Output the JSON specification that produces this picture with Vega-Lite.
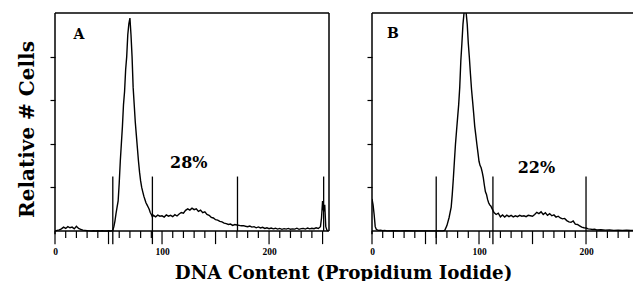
{
  "$schema": "https://vega.github.io/schema/vega-lite/v6.json",
  "background": "white",
  "padding": {"left": 17, "top": 12, "right": 0, "bottom": 0},
  "bounds": "flush",
  "spacing": 43,
  "config": {
    "view": {"stroke": null},
    "font": "DejaVu Serif",
    "axis": {"grid": false, "domainColor": "black", "domainWidth": 1.5, "tickColor": "black", "tickWidth": 1.2, "labelColor": "black", "titleColor": "black"}
  },
  "title": {
    "text": "DNA Content (Propidium Iodide)",
    "orient": "bottom",
    "anchor": "middle",
    "font": "DejaVu Serif",
    "fontSize": 18.3,
    "fontWeight": "bold",
    "color": "black",
    "offset": 9,
    "dx": 18
  },
  "datasets": {
    "one": [{}],
    "a": [
      {"x":0,"v":0},{"x":2,"v":0.3},{"x":4,"v":0.5},{"x":6,"v":1.0},{"x":8,"v":1.8},{"x":10,"v":1.2},{"x":12,"v":2.0},{"x":14,"v":1.5},{"x":16,"v":1.8},{"x":18,"v":1.0},{"x":20,"v":2.2},{"x":22,"v":1.2},{"x":24,"v":0.8},{"x":26,"v":0.4},{"x":28,"v":0.3},{"x":30,"v":0.2},{"x":32,"v":0.1},{"x":34,"v":0},{"x":36,"v":0.1},{"x":38,"v":0},{"x":40,"v":0.1},{"x":42,"v":0},{"x":44,"v":0.1},{"x":46,"v":0},{"x":48,"v":0},{"x":50,"v":0.1},{"x":52,"v":0},{"x":54,"v":0.3},{"x":55,"v":2},{"x":56,"v":4.6},{"x":57,"v":8},{"x":58,"v":11},{"x":59,"v":13.8},{"x":60,"v":22},{"x":61,"v":32},{"x":62,"v":40},{"x":63,"v":48},{"x":64,"v":58},{"x":65,"v":64},{"x":66,"v":74},{"x":67,"v":80},{"x":68,"v":90},{"x":69,"v":95},{"x":70,"v":97.7},{"x":71,"v":90},{"x":72,"v":80},{"x":73,"v":66},{"x":74,"v":58},{"x":75,"v":50},{"x":76,"v":44},{"x":77,"v":38},{"x":78,"v":32},{"x":79,"v":27},{"x":80,"v":23},{"x":81,"v":20},{"x":82,"v":18},{"x":83,"v":16},{"x":84,"v":14.5},{"x":85,"v":13},{"x":86,"v":12},{"x":87,"v":11},{"x":88,"v":10},{"x":89,"v":8.5},{"x":90,"v":7.6},{"x":91,"v":6.5},{"x":92,"v":7.2},{"x":94,"v":6.5},{"x":96,"v":7.3},{"x":98,"v":6.8},{"x":100,"v":7.0},{"x":102,"v":6.4},{"x":104,"v":7.4},{"x":106,"v":6.8},{"x":108,"v":7.2},{"x":110,"v":6.6},{"x":112,"v":7.5},{"x":114,"v":6.9},{"x":116,"v":7.8},{"x":118,"v":8.5},{"x":120,"v":8.2},{"x":122,"v":9.5},{"x":124,"v":10.2},{"x":126,"v":9.6},{"x":128,"v":10.5},{"x":130,"v":9.8},{"x":132,"v":10.2},{"x":134,"v":9.0},{"x":136,"v":9.6},{"x":138,"v":8.4},{"x":140,"v":8.8},{"x":142,"v":7.6},{"x":144,"v":7.2},{"x":146,"v":6.3},{"x":148,"v":6.0},{"x":150,"v":5.2},{"x":152,"v":5.0},{"x":154,"v":4.4},{"x":156,"v":4.2},{"x":158,"v":3.6},{"x":160,"v":3.4},{"x":162,"v":3.0},{"x":164,"v":3.2},{"x":166,"v":2.6},{"x":168,"v":3.0},{"x":170,"v":2.8},{"x":172,"v":2.6},{"x":174,"v":2.4},{"x":176,"v":2.5},{"x":178,"v":2.2},{"x":180,"v":2.0},{"x":182,"v":2.3},{"x":184,"v":1.8},{"x":186,"v":2.0},{"x":188,"v":1.5},{"x":190,"v":1.9},{"x":192,"v":1.4},{"x":194,"v":1.7},{"x":196,"v":1.2},{"x":198,"v":1.5},{"x":200,"v":1.1},{"x":202,"v":1.4},{"x":204,"v":1.0},{"x":206,"v":1.3},{"x":208,"v":0.9},{"x":210,"v":1.2},{"x":212,"v":0.8},{"x":214,"v":1.1},{"x":216,"v":0.9},{"x":218,"v":1.2},{"x":220,"v":0.8},{"x":222,"v":1.0},{"x":224,"v":0.9},{"x":226,"v":1.3},{"x":228,"v":0.8},{"x":230,"v":1.1},{"x":232,"v":1.2},{"x":234,"v":0.9},{"x":236,"v":1.4},{"x":238,"v":1.0},{"x":240,"v":1.3},{"x":242,"v":1.1},{"x":244,"v":1.5},{"x":246,"v":1.2},{"x":248,"v":2.0},{"x":249,"v":6},{"x":250,"v":13.8},{"x":251,"v":9},{"x":252,"v":12},{"x":253,"v":2},{"x":254,"v":0.5},{"x":255,"v":0}
    ],
    "b": [
      {"x":0,"v":14.7},{"x":1,"v":12},{"x":2,"v":7.6},{"x":3,"v":2},{"x":4,"v":0.8},{"x":5,"v":0.5},{"x":6,"v":0.3},{"x":8,"v":0.4},{"x":10,"v":0.2},{"x":12,"v":0.3},{"x":14,"v":0.1},{"x":20,"v":0.2},{"x":26,"v":0.1},{"x":32,"v":0.2},{"x":40,"v":0.1},{"x":48,"v":0.1},{"x":56,"v":0.1},{"x":62,"v":0.1},{"x":66,"v":0.1},{"x":68,"v":0.3},{"x":70,"v":2.5},{"x":72,"v":6.1},{"x":74,"v":11},{"x":75,"v":16.8},{"x":76,"v":24},{"x":77,"v":32},{"x":78,"v":39.8},{"x":79,"v":46},{"x":80,"v":52},{"x":81,"v":58},{"x":82,"v":66},{"x":83,"v":78},{"x":84,"v":86},{"x":85,"v":94.8},{"x":86,"v":100},{"x":87,"v":102},{"x":88,"v":100},{"x":89,"v":94.8},{"x":90,"v":86},{"x":91,"v":79.5},{"x":92,"v":72},{"x":93,"v":65},{"x":94,"v":59.6},{"x":95,"v":54},{"x":96,"v":48},{"x":97,"v":44},{"x":98,"v":39.8},{"x":99,"v":36},{"x":100,"v":32},{"x":101,"v":30},{"x":102,"v":29},{"x":103,"v":27},{"x":104,"v":24.5},{"x":105,"v":21},{"x":106,"v":18},{"x":107,"v":16.8},{"x":108,"v":14.5},{"x":109,"v":13},{"x":110,"v":12},{"x":111,"v":11.5},{"x":112,"v":10.5},{"x":113,"v":9.5},{"x":114,"v":8.5},{"x":116,"v":7.6},{"x":118,"v":8.2},{"x":120,"v":6.5},{"x":122,"v":7.4},{"x":124,"v":6.4},{"x":126,"v":7.3},{"x":128,"v":6.6},{"x":130,"v":7.2},{"x":132,"v":6.5},{"x":134,"v":7.0},{"x":136,"v":6.6},{"x":138,"v":7.2},{"x":140,"v":6.8},{"x":142,"v":7.0},{"x":144,"v":6.6},{"x":146,"v":7.2},{"x":148,"v":7.0},{"x":150,"v":6.8},{"x":152,"v":7.6},{"x":154,"v":8.6},{"x":156,"v":8.0},{"x":158,"v":8.8},{"x":160,"v":7.6},{"x":162,"v":8.4},{"x":164,"v":7.2},{"x":166,"v":8.0},{"x":168,"v":7.0},{"x":170,"v":7.4},{"x":172,"v":6.4},{"x":174,"v":6.8},{"x":176,"v":6.0},{"x":178,"v":5.6},{"x":180,"v":5.8},{"x":182,"v":4.8},{"x":184,"v":4.2},{"x":186,"v":4.0},{"x":188,"v":4.6},{"x":190,"v":3.2},{"x":192,"v":3.0},{"x":194,"v":2.4},{"x":196,"v":1.8},{"x":198,"v":1.5},{"x":200,"v":1.4},{"x":202,"v":1.0},{"x":204,"v":0.9},{"x":206,"v":0.7},{"x":208,"v":0.8},{"x":210,"v":0.5},{"x":214,"v":0.6},{"x":218,"v":0.4},{"x":222,"v":0.5},{"x":226,"v":0.3},{"x":230,"v":0.4},{"x":234,"v":0.3},{"x":238,"v":0.4},{"x":242,"v":0.3},{"x":244,"v":0.3}
    ],
    "ga": [{"x":54,"lo":-6,"hi":25},{"x":91,"lo":-6,"hi":25},{"x":170.5,"lo":0,"hi":25},{"x":251,"lo":0,"hi":25}],
    "gb": [{"x":60,"lo":-6,"hi":25},{"x":113,"lo":-6,"hi":25},{"x":200,"lo":0,"hi":25}],
    "minorA": [{"x":10},{"x":20},{"x":30},{"x":40},{"x":60},{"x":70},{"x":80},{"x":90},{"x":110},{"x":120},{"x":130},{"x":140},{"x":160},{"x":170},{"x":180},{"x":190},{"x":210},{"x":220},{"x":230},{"x":240}],
    "majorA": [{"x":0},{"x":50},{"x":100},{"x":150},{"x":200},{"x":250}],
    "minorB": [{"x":10},{"x":20},{"x":30},{"x":40},{"x":60},{"x":70},{"x":80},{"x":90},{"x":110},{"x":120},{"x":130},{"x":140},{"x":160},{"x":170},{"x":180},{"x":190},{"x":210},{"x":220},{"x":230},{"x":240}],
    "majorB": [{"x":0},{"x":50},{"x":100},{"x":150},{"x":200}]
  },
  "hconcat": [
    {
      "width": 274,
      "height": 232,
      "layer": [
        {
          "data": {"name": "a"},
          "mark": {"type": "line", "color": "black", "strokeWidth": 1.4},
          "encoding": {
            "x": {"field": "x", "type": "quantitative", "scale": {"domain": [0, 256], "nice": false, "zero": false},
              "axis": {"title": null, "values": [0, 100, 200], "ticks": false, "domain": false, "labelPadding": 1,
                "labelFont": "Liberation Serif", "labelFontWeight": "bold", "labelFontSize": 9.5,
                "labelFlush": false, "labelOverlap": false}},
            "y": {"field": "v", "type": "quantitative", "scale": {"domain": [-6.4, 100], "nice": false, "zero": false},
              "axis": {"title": "Relative # Cells", "titleFont": "DejaVu Serif", "titleFontSize": 20, "titleFontWeight": "bold",
                "labels": false, "domain": false, "values": [20, 40, 60, 80], "tickSize": 5, "titlePadding": 12}}
          }
        },
        {"data": {"name": "one"}, "mark": {"type": "rule", "color": "black", "strokeWidth": 1.5}, "encoding": {"y": {"datum": 0}}},
        {"data": {"name": "one"}, "mark": {"type": "rule", "color": "black", "strokeWidth": 1.5}, "encoding": {"y": {"datum": 100}}},
        {"data": {"name": "one"}, "mark": {"type": "rule", "color": "black", "strokeWidth": 1.5}, "encoding": {"x": {"datum": 0}, "y": {"datum": -1.5}, "y2": {"datum": 100}}},
        {"data": {"name": "one"}, "mark": {"type": "rule", "color": "black", "strokeWidth": 1.5}, "encoding": {"x": {"datum": 256}, "y": {"datum": 0}, "y2": {"datum": 100}}},
        {
          "data": {"name": "minorA"},
          "mark": {"type": "rule", "color": "black", "strokeWidth": 1.2},
          "encoding": {"x": {"field": "x", "type": "quantitative"}, "y": {"datum": -3.2}, "y2": {"datum": 0}}
        },
        {
          "data": {"name": "majorA"},
          "mark": {"type": "rule", "color": "black", "strokeWidth": 1.2},
          "encoding": {"x": {"field": "x", "type": "quantitative"}, "y": {"datum": -6}, "y2": {"datum": 0}}
        },
        {
          "data": {"name": "ga"},
          "mark": {"type": "rule", "color": "black", "strokeWidth": 1.3},
          "encoding": {
            "x": {"field": "x", "type": "quantitative"},
            "y": {"field": "lo", "type": "quantitative"},
            "y2": {"field": "hi"}
          }
        },
        {
          "data": {"values": [{"t": "A", "x": 22.4, "y": 89.9}]},
          "mark": {"type": "text", "font": "DejaVu Serif", "fontWeight": "bold", "fontSize": 14, "color": "black", "baseline": "middle"},
          "encoding": {"x": {"field": "x", "type": "quantitative"}, "y": {"field": "y", "type": "quantitative"}, "text": {"field": "t"}}
        },
        {
          "data": {"values": [{"t": "28%", "x": 125, "y": 31.2}]},
          "mark": {"type": "text", "font": "DejaVu Serif", "fontWeight": "bold", "fontSize": 16, "color": "black", "baseline": "middle"},
          "encoding": {"x": {"field": "x", "type": "quantitative"}, "y": {"field": "y", "type": "quantitative"}, "text": {"field": "t"}}
        }
      ]
    },
    {
      "width": 261,
      "height": 232,
      "layer": [
        {
          "data": {"name": "b"},
          "mark": {"type": "line", "color": "black", "strokeWidth": 1.4, "clip": true},
          "encoding": {
            "x": {"field": "x", "type": "quantitative", "scale": {"domain": [0, 243.9], "nice": false, "zero": false},
              "axis": {"title": null, "values": [0, 100, 200], "ticks": false, "domain": false, "labelPadding": 1,
                "labelFont": "Liberation Serif", "labelFontWeight": "bold", "labelFontSize": 9.5,
                "labelFlush": false, "labelOverlap": false}},
            "y": {"field": "v", "type": "quantitative", "scale": {"domain": [-6.4, 100], "nice": false, "zero": false},
              "axis": {"title": null, "labels": false, "domain": false, "values": [20, 40, 60, 80], "tickSize": 5}}
          }
        },
        {"data": {"name": "one"}, "mark": {"type": "rule", "color": "black", "strokeWidth": 1.5}, "encoding": {"y": {"datum": 0}}},
        {"data": {"name": "one"}, "mark": {"type": "rule", "color": "black", "strokeWidth": 1.5}, "encoding": {"y": {"datum": 100}}},
        {"data": {"name": "one"}, "mark": {"type": "rule", "color": "black", "strokeWidth": 1.5}, "encoding": {"x": {"datum": 0}, "y": {"datum": -1.5}, "y2": {"datum": 100}}},
        {
          "data": {"name": "minorB"},
          "mark": {"type": "rule", "color": "black", "strokeWidth": 1.2},
          "encoding": {"x": {"field": "x", "type": "quantitative"}, "y": {"datum": -3.2}, "y2": {"datum": 0}}
        },
        {
          "data": {"name": "majorB"},
          "mark": {"type": "rule", "color": "black", "strokeWidth": 1.2},
          "encoding": {"x": {"field": "x", "type": "quantitative"}, "y": {"datum": -6}, "y2": {"datum": 0}}
        },
        {
          "data": {"name": "gb"},
          "mark": {"type": "rule", "color": "black", "strokeWidth": 1.3},
          "encoding": {
            "x": {"field": "x", "type": "quantitative"},
            "y": {"field": "lo", "type": "quantitative"},
            "y2": {"field": "hi"}
          }
        },
        {
          "data": {"values": [{"t": "B", "x": 19.6, "y": 90.4}]},
          "mark": {"type": "text", "font": "DejaVu Serif", "fontWeight": "bold", "fontSize": 14, "color": "black", "baseline": "middle"},
          "encoding": {"x": {"field": "x", "type": "quantitative"}, "y": {"field": "y", "type": "quantitative"}, "text": {"field": "t"}}
        },
        {
          "data": {"values": [{"t": "22%", "x": 153.7, "y": 28.7}]},
          "mark": {"type": "text", "font": "DejaVu Serif", "fontWeight": "bold", "fontSize": 16, "color": "black", "baseline": "middle"},
          "encoding": {"x": {"field": "x", "type": "quantitative"}, "y": {"field": "y", "type": "quantitative"}, "text": {"field": "t"}}
        }
      ]
    }
  ]
}
